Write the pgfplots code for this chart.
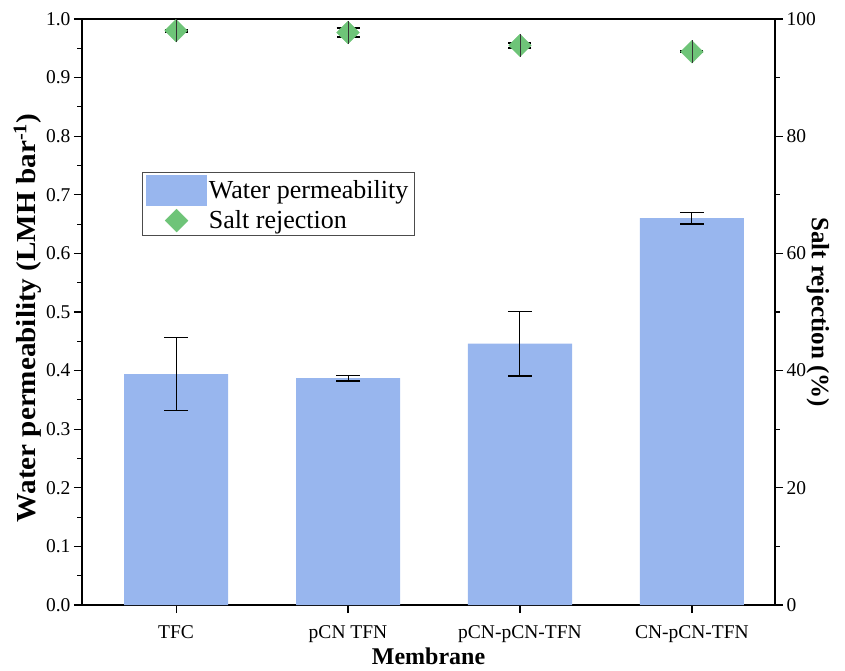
\documentclass[border=0pt]{standalone}
\usepackage{fontspec}
\setmainfont{Liberation Serif}
\usepackage{pgfplots}
\pgfplotsset{compat=1.18}
\definecolor{barblue}{RGB}{152,182,238}
\definecolor{mgreen}{RGB}{110,196,120}
\begin{document}
\begin{tikzpicture}
\pgfplotsset{
  every axis/.append style={
    scale only axis, width=693pt, height=586pt,
    xmin=-0.547, xmax=3.483,
    tick align=outside,
    /pgf/number format/assume math mode=true,
    tick label style={font=\fontsize{19.5}{22}\selectfont},
    label style={font=\fontsize{25}{28}\selectfont\bfseries},
    major tick length=8pt, minor tick length=4.5pt,
    axis line style={line width=1.3pt},
    every tick/.style={line width=1.1pt, black},
    minor tick style={line width=1.1pt},
  }
}
\begin{axis}[
  ymin=0, ymax=1,
  ytick={0,0.1,0.2,0.3,0.4,0.5,0.6,0.7,0.8,0.9,1.0},
  minor y tick num=1,
  yticklabel style={/pgf/number format/.cd, fixed, fixed zerofill, precision=1},
  xtick={0,1,2,3},
  xticklabels={TFC, pCN TFN, pCN-pCN-TFN, CN-pCN-TFN},
  xticklabel style={yshift=-9pt},
  xtick pos=bottom, ytick pos=left,
  ylabel={Water permeability (LMH bar\textsuperscript{-1})},
  xlabel={Membrane},
  ylabel style={at={(ticklabel cs:0.49)}, yshift=-2pt, xscale=1.06, font=\fontsize{27.5}{30}\selectfont\bfseries},
  xlabel style={yshift=2pt, font=\fontsize{24}{27}\selectfont\bfseries},
]
\addplot[ybar, bar width=0.605, fill=barblue, draw=none,
  error bars/.cd, y dir=both, y explicit,
  error bar style={line width=1pt, black},
  error mark options={rotate=90, mark size=12pt, line width=1.4pt, black}]
coordinates {
  (0,0.394) +- (0,0.0625)
  (1,0.387) +- (0,0.005)
  (2,0.446) +- (0,0.055)
  (3,0.660) +- (0,0.010)
};
\end{axis}
\begin{axis}[
  axis y line*=right, axis x line=none,
  ymin=0, ymax=100,
  ytick={0,20,40,60,80,100},
  minor y tick num=1,
  ylabel={Salt rejection (\%)},
  ylabel style={rotate=180, yshift=-16pt, font=\fontsize{25}{28}\selectfont\bfseries},
  legend style={at={(0.0866,0.739)}, anchor=north west, draw=black!70, line width=0.6pt,
    font=\fontsize{26}{30}\selectfont, row sep=3pt, inner xsep=4pt, inner ysep=3pt},
  legend cell align=left,
]
\addlegendimage{legend image code/.code={\fill[barblue] (0pt,-15pt) rectangle (60pt,15pt);}}
\addlegendentry{Water permeability}
\addlegendimage{only marks, mark=square*, mark size=8pt, mark options={rotate=45, fill=mgreen, draw=mgreen},
  legend image code/.code={\draw[mark repeat=2,mark phase=2] plot coordinates {(0pt,0pt) (30pt,0pt) (60pt,0pt)};}}
\addlegendentry{Salt rejection}
\addplot[only marks, mark=square*, mark size=8pt, mark options={rotate=45, fill=mgreen, draw=mgreen},
  forget plot,
  error bars/.cd, y dir=both, y explicit,
  error bar style={line width=1pt, black},
  error mark options={rotate=90, mark size=11.5pt, line width=2pt, black}]
coordinates {
  (0,98.0) +- (0,0.15)
  (1,97.7) +- (0,0.8)
  (2,95.5) +- (0,0.4)
  (3,94.4) +- (0,0.1)
};
\addplot[only marks, mark=|, mark size=11.5pt, mark options={line width=0.8pt, black!80}, forget plot]
coordinates {(0,98.0) (1,97.7) (2,95.5) (3,94.4)};
\end{axis}
\pgfresetboundingbox
\useasboundingbox (-82pt,-66pt) rectangle (763pt,605pt);
\end{tikzpicture}
\end{document}
